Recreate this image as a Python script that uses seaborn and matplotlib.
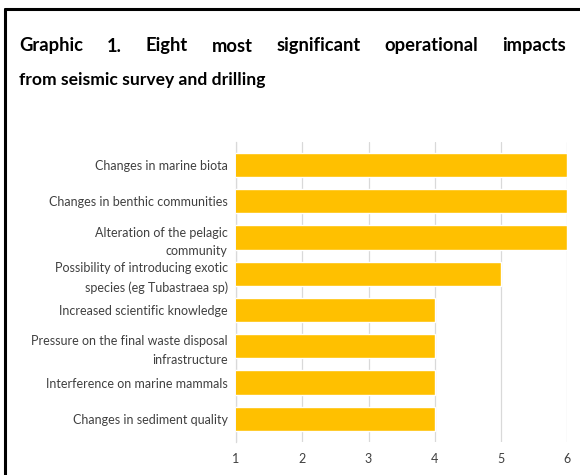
import matplotlib
matplotlib.use('Agg')
import matplotlib.pyplot as plt
import seaborn as sns
import pandas as pd
from matplotlib.lines import Line2D

# data
impacts = [
    'Changes in marine biota',
    'Changes in benthic communities',
    'Alteration of the pelagic\ncommunity',
    'Possibility of introducing exotic\nspecies (eg Tubastraea sp)',
    'Increased scientific knowledge',
    'Pressure on the final waste disposal\ninfrastructure',
    'Interference on marine mammals',
    'Changes in sediment quality',
]
scores = [6, 6, 6, 5, 4, 4, 4, 4]
ticks = [1, 2, 3, 4, 5, 6]

title_line1 = ['Graphic', '1.', 'Eight', 'most', 'significant', 'operational', 'impacts']
title_line2 = 'from seismic survey and drilling'

sns.set_theme(style='white')
plt.rcParams['font.family'] = ['Lato', 'DejaVu Sans']

df = pd.DataFrame({'impact': impacts, 'score': scores})

fig = plt.figure(figsize=(5.8, 4.75), dpi=100)
ax = fig.add_axes([0.407, 0.0695, 0.571, 0.632])

sns.barplot(data=df, x='score', y='impact', orient='h', color='#FFC000',
            saturation=1, width=0.67, ax=ax, zorder=3)
ax.set_xlim(1, 6)
ax.set_ylim(7.64, -0.64)
ax.set_xticks(ticks)
ax.grid(axis='x', color='#D9D9D9', linewidth=0.9, zorder=0)
ax.set_axisbelow(True)
for s in ['top', 'right', 'bottom']:
    ax.spines[s].set_visible(False)
ax.spines['left'].set_color('#D9D9D9')
ax.spines['left'].set_linewidth(0.9)
ax.set_xlabel('')
ax.set_ylabel('')
ax.tick_params(axis='y', length=0, labelsize=9, colors='#404040', pad=6)
ax.tick_params(axis='x', length=0, labelsize=9, colors='#404040', pad=8)
for lbl in ax.get_yticklabels():
    lbl.set_linespacing(1.65)

# frame (top and left edges visible)
fig.add_artist(Line2D([0.009, 0.009], [0.0, 0.981], color='black', lw=2.2,
                      transform=fig.transFigure))
fig.add_artist(Line2D([0.009, 1.0], [0.981, 0.981], color='black', lw=2.2,
                      transform=fig.transFigure))

# justified title line 1
fig.canvas.draw()
renderer = fig.canvas.get_renderer()
x0, x1 = 19 / 580, 566 / 580
y1 = 1 - 46 / 475
words = []
total_w = 0
for w in title_line1:
    t = fig.text(0, y1, w, fontsize=13.2, fontweight='bold', color='black', va='center')
    bb = t.get_window_extent(renderer)
    words.append((t, bb.width / fig.bbox.width))
    total_w += bb.width / fig.bbox.width
gap = (x1 - x0 - total_w) / (len(words) - 1)
xpos = x0
for t, wd in words:
    t.set_x(xpos)
    xpos += wd + gap

fig.text(x0, 1 - 80 / 475, title_line2, fontsize=12.6, fontweight='bold',
         color='black', va='center')

fig.savefig('out.png', dpi=100)
